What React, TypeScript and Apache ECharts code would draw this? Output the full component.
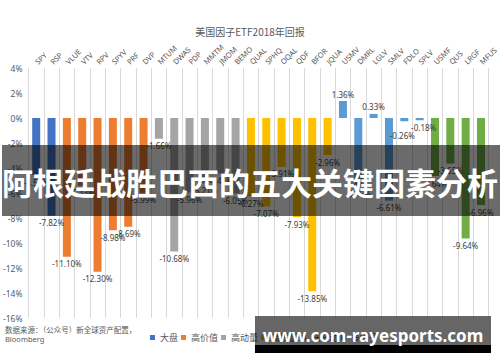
import React, { useEffect, useRef } from "react";
import * as echarts from "echarts";

const chartTitle = "美国因子ETF2018年回报";
const groupNames = ["大盘", "高价值", "高动量", "高质量", "低波动", "多因子"];
const groupColors = ["#4472C4", "#ED7D31", "#A5A5A5", "#FFC000", "#5B9BD5", "#70AD47"];

const largeCap = ["SPY", "RSP"];
const largeCapValues = [-4.56, -7.82];
const highValue = ["VLUE", "VTV", "RPV", "SPYV", "PRF", "DVP"];
const highValueValues = [-11.1, -5.43, -12.3, -8.98, -8.69, -5.99];
const momentum = ["MTUM", "DWAS", "PDP", "MMTM", "JMOM", "BEMO"];
const momentumValues = [-1.66, -10.68, -5.96, -5.21, -4.44, -6.05];
const quality = ["QUAL", "SPHQ", "OQAL", "QDF", "BFOR", "JQUA"];
const qualityValues = [-6.27, -7.07, -3.91, -7.93, -13.85, -2.96];
const lowVol = ["USMV", "DMRL", "LGLV", "SMLV", "FDLO", "SPLV"];
const lowVolValues = [1.36, -5.46, 0.33, -6.61, -0.26, -0.18];
const multiFactor = ["USMF", "QUS", "LRGF", "MFUS"];
const multiFactorValues = [-4.64, -3.65, -9.64, -6.96];

const yTicks = [-16, -14, -12, -10, -8, -6, -4, -2, 0, 2, 4];
const sourceLines = ["数据来源：（公众号）新全球资产配置，", "Bloomberg"];
const bannerText = "阿根廷战胜巴西的五大关键因素分析";
const watermarkText = "www.com-rayesports.com";

const groups = [
  { tickers: largeCap, values: largeCapValues },
  { tickers: highValue, values: highValueValues },
  { tickers: momentum, values: momentumValues },
  { tickers: quality, values: qualityValues },
  { tickers: lowVol, values: lowVolValues },
  { tickers: multiFactor, values: multiFactorValues },
];
const categories = groups.flatMap((g) => g.tickers);

const labelTweaks: Record<string, number[]> = {
  FDLO: [-2, 7],
  SPLV: [4, 0],
};

export default function App() {
  const ref = useRef<HTMLDivElement>(null);
  useEffect(() => {
    if (!ref.current) return;
    const chart = echarts.init(ref.current, undefined, { renderer: "svg" });
    const font = "'Noto Sans', 'Noto Sans CJK SC', sans-serif";
    const series = groups.map((g, gi) => ({
      name: groupNames[gi],
      type: "bar",
      stack: "all",
      barWidth: 8,
      itemStyle: { color: groupColors[gi] },
      data: categories.map((c) => {
        const idx = g.tickers.indexOf(c);
        if (idx < 0) return null;
        const v = g.values[idx];
        return {
          value: v,
          label: {
            show: true,
            position: v >= 0 ? "top" : "bottom",
            distance: 3,
            offset: labelTweaks[c] || [0, 0],
            formatter: v.toFixed(2) + "%",
            fontSize: 8,
            color: "#404040",
            fontFamily: font,
          },
        };
      }),
    }));
    chart.setOption({
      animation: false,
      textStyle: { fontFamily: font },
      title: {
        text: chartTitle,
        left: "center",
        top: 21,
        textStyle: { fontSize: 10, fontWeight: "normal", color: "#595959", fontFamily: "'Noto Sans CJK SC', sans-serif" },
      },
      legend: {
        data: groupNames,
        left: 145,
        top: 328,
        icon: "rect",
        itemWidth: 5,
        itemHeight: 5,
        itemGap: 3,
        textStyle: { fontSize: 9, color: "#595959", fontFamily: "'Noto Sans CJK SC', sans-serif" },
      },
      grid: { left: 27.5, right: 5.5, top: 68, bottom: 44, containLabel: false },
      xAxis: {
        type: "category",
        position: "top",
        data: categories,
        axisLine: { show: false },
        axisTick: { show: false },
        splitLine: { show: true, lineStyle: { color: "#d9d9d9", width: 1 } },
        axisLabel: { interval: 0, rotate: 45, fontSize: 7.5, color: "#595959", margin: 5 },
      },
      yAxis: {
        type: "value",
        min: yTicks[0],
        max: yTicks[yTicks.length - 1],
        interval: 2,
        axisLine: { show: false },
        axisTick: { show: false },
        splitLine: { show: false },
        axisLabel: { formatter: "{value}%", fontSize: 8.5, color: "#595959", margin: 6 },
      },
      series,
      graphic: [
        {
          type: "text",
          left: 5,
          top: 326,
          z: 50,
          style: { text: sourceLines[0], fontSize: 7.5, fill: "#595959", fontFamily: "'Noto Sans CJK SC', sans-serif" },
        },
        {
          type: "text",
          left: 5,
          top: 335,
          z: 50,
          style: { text: sourceLines[1], fontSize: 7.5, fill: "#595959", fontFamily: font },
        },
        {
          type: "rect",
          z: 100,
          shape: { x: 2, y: 145, width: 498, height: 71 },
          style: { fill: "rgba(0,0,0,0.58)" },
        },
        {
          type: "text",
          z: 101,
          x: 250,
          y: 181,
          style: {
            text: bannerText,
            fontSize: 31,
            fontWeight: "bold",
            fill: "#ffffff",
            align: "center",
            verticalAlign: "middle",
            fontFamily: "'Noto Sans CJK SC', sans-serif",
          },
        },
        {
          type: "rect",
          z: 100,
          shape: { x: 255, y: 316, width: 236, height: 29 },
          style: { fill: "rgba(0,0,0,0.6)" },
        },
        {
          type: "rect",
          z: 100,
          shape: { x: 255, y: 345, width: 236, height: 8 },
          style: { fill: "#000000" },
        },
        {
          type: "text",
          z: 101,
          x: 373,
          y: 335,
          style: {
            text: watermarkText,
            fontSize: 17,
            fontWeight: "bold",
            fill: "#ffffff",
            align: "center",
            verticalAlign: "middle",
            fontFamily: "'Noto Sans', 'DejaVu Sans', sans-serif",
          },
        },
      ],
    });
    return () => chart.dispose();
  }, []);
  return (
    <div
      ref={ref}
      style={{ position: "fixed", left: 0, top: 0, width: 500, height: 362, background: "#ffffff" }}
    />
  );
}
